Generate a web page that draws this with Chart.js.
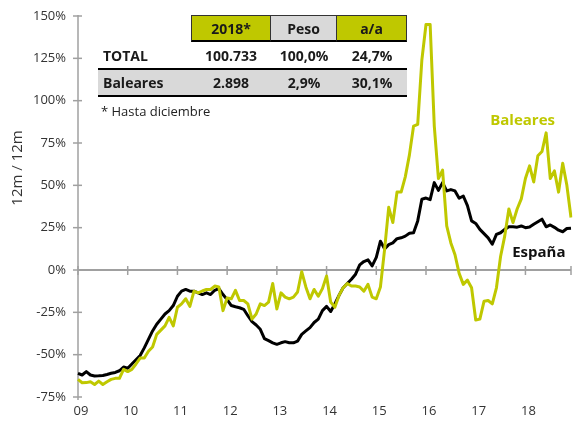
<!DOCTYPE html>
<html>
<head>
<meta charset="utf-8">
<script src="https://cdn.jsdelivr.net/npm/chart.js@4"></script>
<style>
  body { margin: 0; background: #fff; }
  #wrap { position: relative; width: 576px; height: 422px; }
  #tbl { position: absolute; left: 98px; top: 15px; font-family: 'Open Sans', sans-serif; color: #1a1a1a; }
  .row { display: flex; }
  .cell { box-sizing: border-box; display: flex; align-items: center; justify-content: center; font-weight: 700; font-size: 14px; }
  .c0 { width: 93px; justify-content: flex-start; padding-left: 5px; }
  .head .cell { height: 27px; border-top: 1px solid #333; border-right: 1px solid #333; border-bottom: 2px solid #000; }
  .head .c0 { border: none; }
  .head .first { border-left: 1px solid #333; }
  .body { height: 28px; border-bottom: 2px solid #000; box-sizing: border-box; }
  .body.alt { background: #d9d9d9; height: 27px; }
  .body .cell { height: 100%; }
  #note { font-size: 13px; font-weight: 400; margin-top: 5px; padding-left: 3px; color: #222; }
</style>
</head>
<body>
<div id="wrap">
  <canvas id="chart" width="576" height="422"></canvas>
  <div id="tbl"></div>
</div>
<script>
// ===== DATA =====
const yearLabels = ['09', '10', '11', '12', '13', '14', '15', '16', '17', '18'];
const yTicks = [-75, -50, -25, 0, 25, 50, 75, 100, 125, 150];

// monthly 12m/12m change, Jan 2009 - Dec 2018
const baleares = [
  -64.6, -66.6, -66.5, -66, -67.6, -65.6, -67.6, -66, -64.6, -64, -64, -58.7,
  -60, -58.7, -55.5, -52, -52, -48, -45.5, -38, -35.5, -33, -28, -33,
  -22, -20, -17, -21.5, -12.5, -13.5, -12.4, -11.5, -11.5, -9.5, -10, -24,
  -16.5, -17, -12, -18, -18, -20, -29, -26, -20, -21, -19, -8,
  -23, -13.5, -16, -17, -16, -13, -1, -10, -17, -11.5, -15.5, -11,
  -3.5, -19, -22, -15, -10.5, -8, -9.5, -9.5, -10, -12.5, -8.5, -16,
  -17, -10, 12, 37, 28, 46, 46, 55, 68, 85, 86, 124,
  145, 145, 85, 54, 59, 26, 16, 9, -2, -8.5, -6, -10.5,
  -29.5, -29, -18.5, -18, -20, -10.5, 8, 20, 36, 28, 36, 42,
  54, 61.5, 52, 67.5, 70, 81, 54, 58.5, 46, 63, 50, 31
];
const espana = [
  -61, -62, -60, -62, -62.6, -62.5, -62.3, -61.7, -61, -60.5, -59.5, -57.3,
  -58, -55.5, -53, -50.5, -46, -41, -36, -32, -29, -26, -24, -21,
  -15.5, -12.5, -11.5, -12.5, -12.5, -13.5, -14.5, -13.5, -14.5, -12, -11, -14.5,
  -17.5, -21, -21.7, -22.3, -23.2, -27, -30.5, -32.5, -35, -40.5, -41.7, -43,
  -43.9, -43, -42.3, -43, -43, -42, -38, -36, -34, -31, -29, -24,
  -21.5, -24.5, -20, -15, -10.5, -8, -5.5, -2.5, 3, 5, 6, 2.4,
  7.5, 17, 12.5, 15, 16, 18.5, 19, 20, 21.7, 22, 29, 41.8,
  42.5, 41.5, 51.6, 47, 51.6, 46.7, 47.5, 46.7, 42.4, 43.7, 38, 29,
  27.5, 24, 21.5, 19, 15.2, 21, 22, 24, 25.5, 25.5, 25.3, 26,
  25, 25.4, 27, 28.5, 30, 25.5, 26.6, 25.2, 23.5, 22.6, 24.5, 24.7
];

const tableCols = ['2018*', 'Peso', 'a/a'];
const tableRows = [
  ['TOTAL', '100.733', '100,0%', '24,7%'],
  ['Baleares', '2.898', '2,9%', '30,1%']
];
const tableNote = '* Hasta diciembre';

const LIME = '#bfc800';
const months = yearLabels.flatMap(y => Array.from({ length: 12 }, (_, m) => y + '-' + (m + 1)));

// ===== TABLE =====
const colW = [80, 66, 70];
const tbl = document.getElementById('tbl');
let html = '<div class="row head"><div class="cell c0"></div>' +
  tableCols.map((c, i) => `<div class="cell ${i === 0 ? 'first' : ''}" style="width:${colW[i]}px;background:${i === 1 ? '#d9d9d9' : LIME}">${c}</div>`).join('') +
  '</div>';
tableRows.forEach((r, ri) => {
  html += `<div class="row body ${ri === 1 ? 'alt' : ''}"><div class="cell c0">${r[0]}</div>` +
    r.slice(1).map((v, i) => `<div class="cell" style="width:${colW[i]}px">${v}</div>`).join('') + '</div>';
});
html += `<div id="note">${tableNote}</div>`;
tbl.innerHTML = html;

// ===== CHART =====
const axisMarks = {
  id: 'axisMarks',
  beforeDatasetsDraw(chart) {
    const { ctx, scales: { x, y } } = chart;
    const line = (x1, y1, x2, y2) => { ctx.beginPath(); ctx.moveTo(x1, y1); ctx.lineTo(x2, y2); ctx.stroke(); };
    ctx.save();
    ctx.strokeStyle = '#a0a0a0';
    ctx.lineWidth = 1.5;
    line(x.left, y.getPixelForValue(150) - 1, x.left, y.getPixelForValue(-75) + 3);
    yTicks.forEach(v => { const py = y.getPixelForValue(v); line(x.left - 5, py, x.left + 4, py); });
    const y0 = y.getPixelForValue(0);
    ctx.lineWidth = 2;
    line(x.left, y0, x.right, y0);
    ctx.lineWidth = 1.5;
    yearLabels.forEach((_, k) => { const px = x.getPixelForValue(k * 12); line(px, y0 - 4, px, y0 + 5); });
    line(x.right, y0 - 4, x.right, y0 + 5);
    ctx.restore();
  },
  afterDraw(chart) {
    const { ctx, scales: { x, y } } = chart;
    ctx.save();
    ctx.font = '700 15px "Open Sans"';
    ctx.textBaseline = 'middle';
    ctx.fillStyle = LIME;
    ctx.fillText('Baleares', x.getPixelForValue(99.5), y.getPixelForValue(88));
    ctx.fillStyle = '#111';
    ctx.fillText('España', x.getPixelForValue(104.8), y.getPixelForValue(10.2));
    // y title
    ctx.translate(18, 168);
    ctx.rotate(-Math.PI / 2);
    ctx.textAlign = 'center';
    ctx.font = '15px "Open Sans"';
    ctx.fillStyle = '#333';
    ctx.fillText('12m / 12m', 0, 0);
    ctx.restore();
  }
};

new Chart(document.getElementById('chart'), {
  type: 'line',
  data: {
    labels: months,
    datasets: [
      { label: 'Baleares', data: baleares, borderColor: LIME, borderWidth: 3, pointRadius: 0, tension: 0, borderJoinStyle: 'round' },
      { label: 'España', data: espana, borderColor: '#000', borderWidth: 3, pointRadius: 0, tension: 0, borderJoinStyle: 'round' }
    ]
  },
  options: {
    responsive: false,
    animation: false,
    layout: { padding: { top: 16, right: 5, left: 0, bottom: 0 } },
    plugins: { legend: { display: false }, tooltip: { enabled: false } },
    scales: {
      x: {
        type: 'category',
        offset: false,
        grid: { display: false, drawTicks: false },
        border: { display: false },
        afterFit: s => { s.height = 25; s.paddingLeft = 0; s.paddingRight = 0; },
        ticks: {
          autoSkip: false, maxRotation: 0, padding: 6, labelOffset: 3,
          color: '#333', font: { family: 'Open Sans', size: 13 },
          callback: (v, i) => (i % 12 === 0 ? yearLabels[i / 12] : null)
        }
      },
      y: {
        min: -75, max: 150,
        grid: { display: false, drawTicks: false },
        border: { display: false },
        afterFit: s => { s.width = 78; s.paddingTop = 0; s.paddingBottom = 0; },
        ticks: {
          stepSize: 25, padding: 12,
          color: '#333', font: { family: 'Open Sans', size: 13 },
          callback: v => v + '%'
        }
      }
    }
  },
  plugins: [axisMarks]
});
</script>
</body>
</html>
